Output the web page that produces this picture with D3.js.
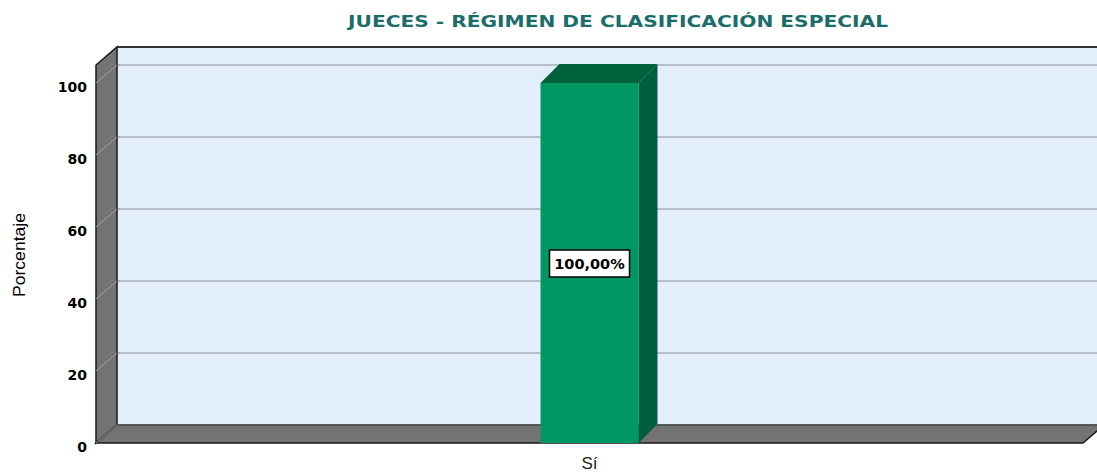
<!DOCTYPE html>
<html lang="en">
<head>
    <meta charset="UTF-8">
    <title>Jueces - Régimen de clasificación especial</title>
    <script src="https://d3js.org/d3.v7.min.js"></script>
    <style>
        body { margin: 0; background: #fff; }
        svg { display: block; }
    </style>
</head>
<body>
<div id="chart"></div>
<script>

    // data
    var categories = ["Sí"];
    var values = [100];
    var valueLabels = ["100,00%"];
    var yTicks = [0, 20, 40, 60, 80, 100];
    var title = "JUECES - RÉGIMEN DE CLASIFICACIÓN ESPECIAL";
    var yTitle = "Porcentaje";

    var W = 1097, H = 473;
    var frontLeft = 96, frontRight = 1083, frontBottom = 443;
    var depthX = 21, depthY = 18;     // wall/floor depth
    var barDepth = 19;

    var svg = d3.select("#chart").append("svg")
        .attr("width", W).attr("height", H);

    // front-plane scales
    var y = d3.scaleLinear().domain([0, 100]).range([frontBottom, 83]);
    var x = d3.scaleBand().domain(categories).range([frontLeft, frontRight]);

    var wallTop = y(105) - depthY;

    // back wall
    svg.append("rect")
        .attr("x", frontLeft + depthX).attr("y", wallTop)
        .attr("width", W).attr("height", y(0) - depthY - wallTop)
        .attr("fill", "#e2eefa");

    // grid lines on back wall
    var grid = svg.append("g");
    yTicks.filter(function (d) { return d > 0; }).forEach(function (t) {
        grid.append("line")
            .attr("x1", frontLeft + depthX).attr("x2", W)
            .attr("y1", y(t) - depthY).attr("y2", y(t) - depthY)
            .attr("stroke", "#a9adb2").attr("stroke-width", 1.5);
    });

    // left wall
    svg.append("path")
        .attr("d", d3.line()([
            [frontLeft, frontBottom],
            [frontLeft, y(105)],
            [frontLeft + depthX, wallTop],
            [frontLeft + depthX, y(0) - depthY]
        ]) + "Z")
        .attr("fill", "#737373").attr("stroke", "#1a1a1a").attr("stroke-width", 1.5);

    // grid lines on left wall
    yTicks.filter(function (d) { return d > 0; }).forEach(function (t) {
        svg.append("line")
            .attr("x1", frontLeft).attr("y1", y(t))
            .attr("x2", frontLeft + depthX).attr("y2", y(t) - depthY)
            .attr("stroke", "#a0a0a0").attr("stroke-width", 1);
    });

    // top edge of the back wall
    svg.append("line")
        .attr("x1", frontLeft + depthX).attr("x2", W)
        .attr("y1", wallTop).attr("y2", wallTop)
        .attr("stroke", "#333").attr("stroke-width", 2);

    // floor
    svg.append("path")
        .attr("d", d3.line()([
            [frontLeft, frontBottom],
            [frontLeft + depthX, y(0) - depthY],
            [frontRight + depthX, y(0) - depthY],
            [frontRight, frontBottom]
        ]) + "Z")
        .attr("fill", "#737373").attr("stroke", "#1a1a1a").attr("stroke-width", 1.5);
    svg.append("line")
        .attr("x1", frontLeft + depthX).attr("x2", W)
        .attr("y1", y(0) - depthY).attr("y2", y(0) - depthY)
        .attr("stroke", "#5d6166").attr("stroke-width", 1.5);
    svg.append("line")
        .attr("x1", frontLeft).attr("y1", frontBottom)
        .attr("x2", frontLeft + depthX).attr("y2", y(0) - depthY)
        .attr("stroke", "#9a9a9a").attr("stroke-width", 1);

    // bars
    var barW = 98;
    var bars = svg.append("g").selectAll("g")
        .data(values)
        .enter().append("g");

    bars.each(function (d, i) {
        var g = d3.select(this);
        var x0 = x(categories[i]) + x.bandwidth() / 2 - barW / 2;
        var x1 = x0 + barW;
        var yt = y(d), yb = y(0);
        // side
        g.append("path")
            .attr("d", d3.line()([[x1, yb], [x1, yt], [x1 + barDepth, yt - barDepth], [x1 + barDepth, yb - barDepth]]) + "Z")
            .attr("fill", "#005e3c");
        // top
        g.append("path")
            .attr("d", d3.line()([[x0, yt], [x0 + barDepth, yt - barDepth], [x1 + barDepth, yt - barDepth], [x1, yt]]) + "Z")
            .attr("fill", "#00613d");
        // front
        g.append("rect")
            .attr("x", x0).attr("y", yt)
            .attr("width", barW).attr("height", yb - yt)
            .attr("fill", "#009763");

        // value label
        var cx = x0 + barW / 2, cy = (yt + yb) / 2;
        g.append("rect")
            .attr("x", cx - 40).attr("y", cy - 13)
            .attr("width", 80).attr("height", 27)
            .attr("fill", "#fff").attr("stroke", "#000").attr("stroke-width", 1.5);
        g.append("text")
            .attr("x", cx).attr("y", cy + 6)
            .attr("text-anchor", "middle")
            .attr("font-family", "DejaVu Sans, Verdana, sans-serif")
            .attr("font-weight", "bold").attr("font-size", 14.5)
            .attr("fill", "#000")
            .text(valueLabels[i]);
    });

    // y tick labels
    svg.append("g").selectAll("text")
        .data(yTicks)
        .enter().append("text")
        .attr("x", 87).attr("y", function (d) { return y(d) + 9; })
        .attr("text-anchor", "end")
        .attr("font-family", "DejaVu Sans, Verdana, sans-serif")
        .attr("font-weight", "bold").attr("font-size", 14)
        .attr("fill", "#000")
        .text(function (d) { return d; });

    // x category labels
    svg.append("g").selectAll("text")
        .data(categories)
        .enter().append("text")
        .attr("x", function (d) { return x(d) + x.bandwidth() / 2; })
        .attr("y", 469)
        .attr("text-anchor", "middle")
        .attr("font-family", "Liberation Sans, Arial, sans-serif")
        .attr("font-size", 17)
        .attr("fill", "#222")
        .text(function (d) { return d; });

    // y axis title
    svg.append("text")
        .attr("transform", "translate(25,255) rotate(-90)")
        .attr("text-anchor", "middle")
        .attr("font-family", "Liberation Sans Narrow, Liberation Sans, Arial, sans-serif")
        .attr("font-size", 17)
        .attr("textLength", 84)
        .attr("lengthAdjust", "spacingAndGlyphs")
        .attr("fill", "#000")
        .text(yTitle);

    // title
    svg.append("text")
        .attr("x", 618).attr("y", 27)
        .attr("text-anchor", "middle")
        .attr("font-family", "DejaVu Sans, Verdana, sans-serif")
        .attr("font-weight", "bold").attr("font-size", 16)
        .attr("textLength", 540)
        .attr("lengthAdjust", "spacingAndGlyphs")
        .attr("fill", "#1b6d6b")
        .text(title);

</script>
</body>
</html>
